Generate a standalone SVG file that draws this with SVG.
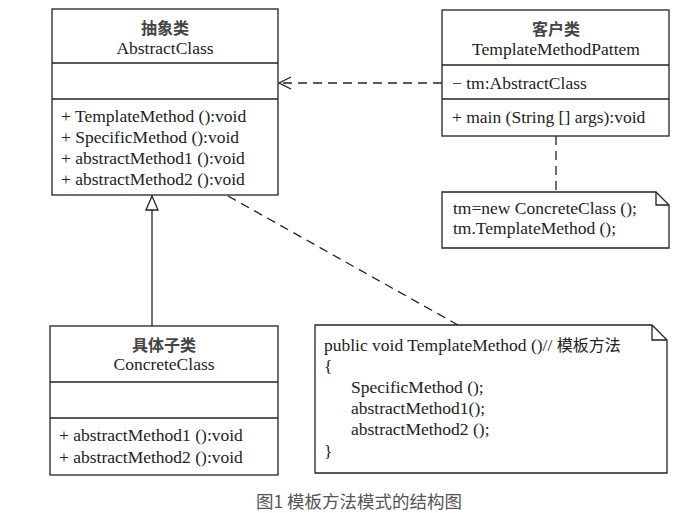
<svg xmlns="http://www.w3.org/2000/svg" width="697" height="513" viewBox="0 0 697 513">
<defs>
<style>
.box{fill:#fff;stroke:#222;stroke-width:1.3}
.ln{stroke:#222;stroke-width:1.3;fill:none}
.dash{stroke:#222;stroke-width:1.3;fill:none;stroke-dasharray:9 6}
.t{font-family:"Liberation Serif","Noto Serif CJK SC","Noto Sans CJK SC",serif;font-size:17.5px;fill:#222}
.c{text-anchor:middle}
.cn{font-family:"Noto Sans CJK SC",sans-serif;font-size:16px;font-weight:bold;fill:#444}
.cap{font-family:"Noto Sans CJK SC",sans-serif;font-size:17.5px;fill:#555;text-anchor:middle}
</style>
<marker id="open" viewBox="0 0 14 14" refX="13" refY="7" markerWidth="14" markerHeight="14" markerUnits="userSpaceOnUse" orient="auto">
<path d="M1,1 L13,7 L1,13" fill="none" stroke="#222" stroke-width="1.3"/>
</marker>
<marker id="tri" viewBox="0 0 16 16" refX="15" refY="8" markerWidth="16" markerHeight="16" markerUnits="userSpaceOnUse" orient="auto">
<path d="M1,2 L15,8 L1,14 Z" fill="#fff" stroke="#222" stroke-width="1.3"/>
</marker>
</defs>
<rect width="697" height="513" fill="#fff"/>

<g id="connectors">
<line class="dash" x1="442" y1="83" x2="279" y2="83" marker-end="url(#open)"/>
<line class="ln" x1="152" y1="326" x2="152" y2="196" marker-end="url(#tri)"/>
<line class="dash" x1="556" y1="136" x2="556" y2="192"/>
<line class="dash" x1="228" y1="196" x2="458" y2="325"/>
</g>

<g id="abstract-class">
<rect class="box" x="52" y="9" width="226" height="186"/>
<line class="ln" x1="52" y1="63" x2="278" y2="63"/>
<line class="ln" x1="52" y1="99" x2="278" y2="99"/>
<text class="cn c" x="165" y="34">抽象类</text>
<text class="t c" x="165" y="54">AbstractClass</text>
<text class="t" x="61" y="122">+ TemplateMethod ():void</text>
<text class="t" x="61" y="143">+ SpecificMethod ():void</text>
<text class="t" x="61" y="164">+ abstractMethod1 ():void</text>
<text class="t" x="61" y="185">+ abstractMethod2 ():void</text>
</g>

<g id="client-class">
<rect class="box" x="442" y="10" width="227" height="126"/>
<line class="ln" x1="442" y1="65" x2="669" y2="65"/>
<line class="ln" x1="442" y1="99" x2="669" y2="99"/>
<text class="cn c" x="556" y="35">客户类</text>
<text class="t c" x="556" y="55">TemplateMethodPattem</text>
<text class="t" x="452" y="89">− tm:AbstractClass</text>
<text class="t" x="452" y="123">+ main (String [] args):void</text>
</g>

<g id="client-note">
<path class="box" d="M442,192 H656 L669,205 V248 H442 Z"/>
<path class="ln" d="M656,192 V205 H669"/>
<text class="t" x="453" y="214">tm=new ConcreteClass ();</text>
<text class="t" x="453" y="234">tm.TemplateMethod ();</text>
</g>

<g id="concrete-class">
<rect class="box" x="50" y="326" width="228" height="149"/>
<line class="ln" x1="50" y1="382" x2="278" y2="382"/>
<line class="ln" x1="50" y1="418" x2="278" y2="418"/>
<text class="cn c" x="164" y="351">具体子类</text>
<text class="t c" x="164" y="370">ConcreteClass</text>
<text class="t" x="59" y="441">+ abstractMethod1 ():void</text>
<text class="t" x="59" y="463">+ abstractMethod2 ():void</text>
</g>

<g id="template-note">
<path class="box" d="M315,325 H652 L667,340 V473 H315 Z"/>
<path class="ln" d="M652,325 V340 H667"/>
<text class="t" x="324" y="351">public void TemplateMethod ()// <tspan font-family="Noto Sans CJK SC,sans-serif" font-size="16">模板方法</tspan></text>
<text class="t" x="324" y="372">{</text>
<text class="t" x="351" y="393">SpecificMethod ();</text>
<text class="t" x="351" y="414">abstractMethod1();</text>
<text class="t" x="351" y="435">abstractMethod2 ();</text>
<text class="t" x="324" y="457">}</text>
</g>

<text class="cap" x="359" y="508">图1 模板方法模式的结构图</text>
</svg>
